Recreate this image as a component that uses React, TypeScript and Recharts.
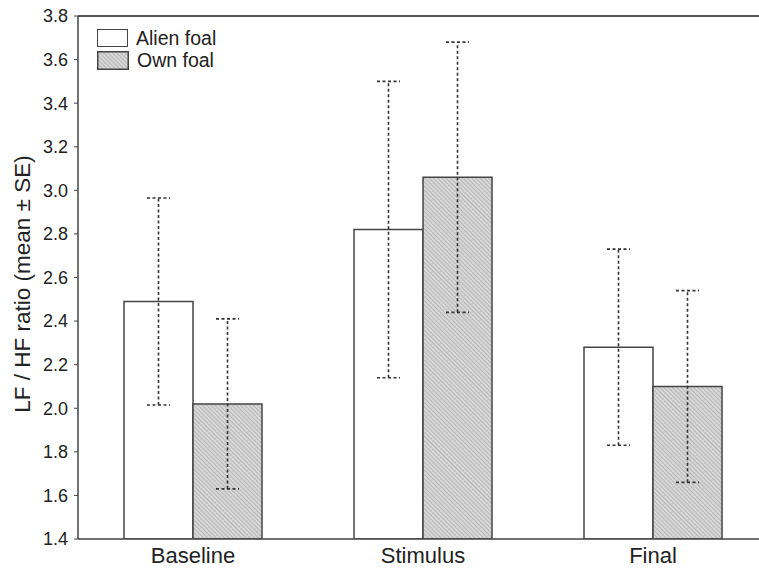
import React from "react";
import { BarChart, Bar, XAxis, YAxis, ErrorBar, ReferenceLine } from "recharts";

const categories = ["Baseline", "Stimulus", "Final"];
const alienMeans = [2.49, 2.82, 2.28];
const alienSE = [0.475, 0.68, 0.45];
const ownMeans = [2.02, 3.06, 2.1];
const ownSE = [0.39, 0.62, 0.44];
const yTicks = [1.4, 1.6, 1.8, 2.0, 2.2, 2.4, 2.6, 2.8, 3.0, 3.2, 3.4, 3.6, 3.8];
const seriesNames = ["Alien foal", "Own foal"];

const data = categories.map((c, i) => ({
  name: c,
  alien: alienMeans[i],
  alienErr: alienSE[i],
  own: ownMeans[i],
  ownErr: ownSE[i],
}));

const FONT = "Liberation Sans, Arial, sans-serif";

const LegendBox = () => (
  <div style={{ position: "absolute", left: 97, top: 27, fontFamily: FONT, fontSize: 19.5, color: "#222", lineHeight: "22px" }}>
    <div style={{ display: "flex", alignItems: "center" }}>
      <div style={{ width: 29, height: 16, border: "1.5px solid #444", background: "#fff", marginRight: 8 }} />
      <span>{seriesNames[0]}</span>
    </div>
    <div style={{ display: "flex", alignItems: "center" }}>
      <svg width={32} height={19} style={{ marginRight: 8 }}>
        <rect x={0.75} y={0.75} width={30.5} height={17.5} fill="url(#hatch)" stroke="#444" strokeWidth={1.5} />
      </svg>
      <span>{seriesNames[1]}</span>
    </div>
  </div>
);

const YLabel = () => (
  <text
    x={22}
    y={284}
    transform="rotate(-90, 22, 284)"
    textAnchor="middle"
    dominantBaseline="central"
    fontFamily={FONT}
    fontSize={22.5}
    fill="#222"
  >
    LF / HF ratio (mean ± SE)
  </text>
);

export default function App() {
  return (
    <div style={{ position: "absolute", left: 0, top: 0, width: 759, height: 573, overflow: "hidden", background: "#fff" }}>
      <svg width={0} height={0} style={{ position: "absolute" }}>
        <defs>
          <pattern id="hatch" width={3} height={3} patternUnits="userSpaceOnUse" patternTransform="rotate(-45)">
            <rect width={3} height={3} fill="#d6d6d6" />
            <line x1={0} y1={0} x2={0} y2={3} stroke="#a4a4a4" strokeWidth={1.2} />
          </pattern>
        </defs>
      </svg>
      <BarChart
        width={770}
        height={573}
        data={data}
        margin={{ top: 16, right: 2, bottom: 0, left: 0 }}
        barCategoryGap="20%"
        barGap={0}
      >
        <XAxis
          dataKey="name"
          height={34}
          tickLine={false}
          axisLine={{ stroke: "#444", strokeWidth: 1.5 }}
          tick={{ fontFamily: FONT, fontSize: 22, fill: "#222" }}
          tickMargin={2}
        />
        <YAxis
          width={78}
          domain={[1.4, 3.8]}
          ticks={yTicks}
          tickFormatter={(v: number) => v.toFixed(1)}
          tickSize={4}
          tickMargin={6}
          interval={0}
          allowDataOverflow
          axisLine={{ stroke: "#444", strokeWidth: 1.5 }}
          tickLine={{ stroke: "#444" }}
          tick={{ fontFamily: FONT, fontSize: 18, fill: "#222" }}
          label={<YLabel />}
        />
        <ReferenceLine y={3.8} stroke="#555" strokeWidth={2} />
        <Bar dataKey="alien" name={seriesNames[0]} fill="#ffffff" stroke="#444" strokeWidth={1.5} isAnimationActive={false}>
          <ErrorBar dataKey="alienErr" width={11.5} stroke="#333" strokeWidth={1.6} strokeDasharray="3 2.5" direction="y" isAnimationActive={false} />
        </Bar>
        <Bar dataKey="own" name={seriesNames[1]} fill="url(#hatch)" stroke="#444" strokeWidth={1.5} isAnimationActive={false}>
          <ErrorBar dataKey="ownErr" width={11.5} stroke="#333" strokeWidth={1.6} strokeDasharray="3 2.5" direction="y" isAnimationActive={false} />
        </Bar>
      </BarChart>
      <LegendBox />
    </div>
  );
}
